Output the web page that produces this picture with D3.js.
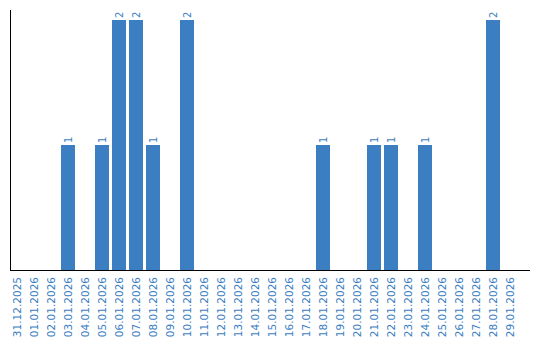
<!DOCTYPE html>
<html>
<head>
<meta charset="utf-8">
<script src="https://cdn.jsdelivr.net/npm/d3@7"></script>
<style>
  body { margin: 0; background: #fff; }
</style>
</head>
<body>
<div id="chart"></div>
<script>
// ----------------------------------------------------------------------------
// Data
// ----------------------------------------------------------------------------

const dates = [
  "31.12.2025", "01.01.2026", "02.01.2026", "03.01.2026", "04.01.2026",
  "05.01.2026", "06.01.2026", "07.01.2026", "08.01.2026", "09.01.2026",
  "10.01.2026", "11.01.2026", "12.01.2026", "13.01.2026", "14.01.2026",
  "15.01.2026", "16.01.2026", "17.01.2026", "18.01.2026", "19.01.2026",
  "20.01.2026", "21.01.2026", "22.01.2026", "23.01.2026", "24.01.2026",
  "25.01.2026", "26.01.2026", "27.01.2026", "28.01.2026", "29.01.2026"
]
const counts = [
  0, 0, 0, 1, 0,
  1, 2, 2, 1, 0,
  2, 0, 0, 0, 0,
  0, 0, 0, 1, 0,
  0, 1, 1, 0, 1,
  0, 0, 0, 2, 0
]
const yDomain = [0, 2]

// ----------------------------------------------------------------------------
// Setup
// ----------------------------------------------------------------------------

const width = 540
const height = 340
const barColor = "#3b7ec2"
const textColor = "#3a7dc1"
const font = "'DejaVu Sans', Verdana, sans-serif"

const svg = d3.select("#chart")
  .append("svg")
  .attr("width", width)
  .attr("height", height)
  .style("font-family", font)

const x = d3.scaleBand()
  .domain(dates)
  .range([10, 517])
  .paddingInner(3 / 17)
  .paddingOuter(0)

const y = d3.scaleLinear()
  .domain(yDomain)
  .range([270, 20])

const data = dates.map((d, i) => ({ date: d, value: counts[i] }))

// Bars
svg.append("g")
  .selectAll("rect")
  .data(data.filter(d => d.value > 0))
  .join("rect")
  .attr("x", d => x(d.date))
  .attr("y", d => y(d.value))
  .attr("width", x.bandwidth())
  .attr("height", d => y(0) - y(d.value))
  .attr("fill", barColor)

// Value labels
svg.append("g")
  .selectAll("text")
  .data(data.filter(d => d.value > 0))
  .join("text")
  .attr("transform", d =>
    `translate(${x(d.date) + x.bandwidth() / 2 + 3.5},${y(d.value) - 2}) rotate(-90)`)
  .attr("text-anchor", "start")
  .style("font-size", "10px")
  .attr("fill", textColor)
  .text(d => d.value)

// Axis lines
svg.append("line")
  .attr("x1", 10.5).attr("x2", 10.5)
  .attr("y1", 10).attr("y2", 270)
  .attr("stroke", "#000")

svg.append("line")
  .attr("x1", 10).attr("x2", 530)
  .attr("y1", 270.5).attr("y2", 270.5)
  .attr("stroke", "#000")

// X tick labels
svg.append("g")
  .selectAll("text")
  .data(dates)
  .join("text")
  .attr("transform", d =>
    `translate(${x(d) + x.bandwidth() / 2 + 3.5},277) rotate(-90)`)
  .attr("text-anchor", "end")
  .style("font-size", "10.5px")
  .attr("fill", textColor)
  .text(d => d)
</script>
</body>
</html>
